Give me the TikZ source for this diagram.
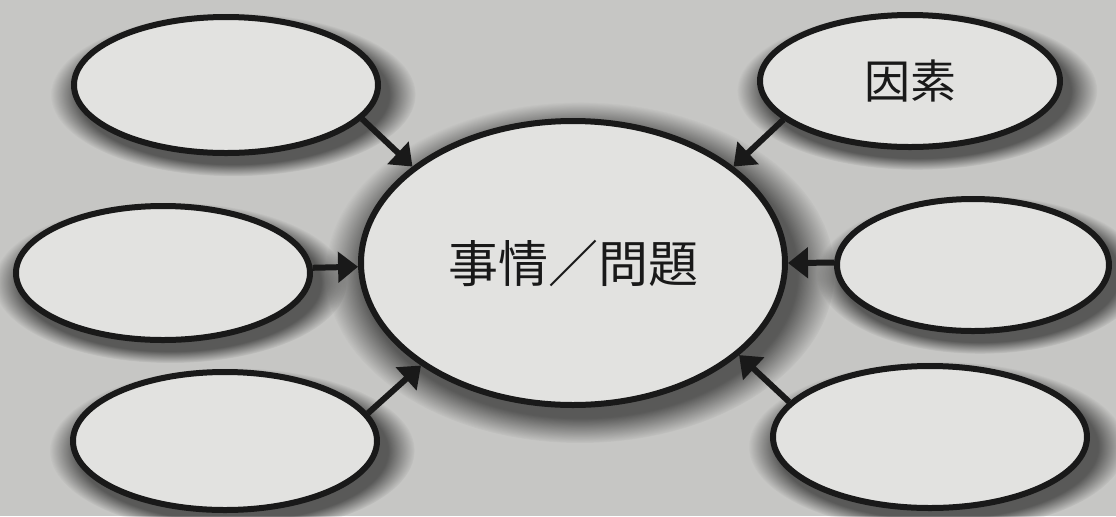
\documentclass[tikz,border=0pt]{standalone}
\usepackage{fontspec}
\newfontfamily\jpfont{Noto Sans CJK JP}
\usetikzlibrary{shapes.geometric,arrows.meta,shadows}
\definecolor{paper}{RGB}{198,198,196}
\definecolor{bubblefill}{RGB}{226,226,224}
\definecolor{ink}{RGB}{25,25,25}
\begin{document}
\begin{tikzpicture}[x=0.5pt,y=-0.5pt,
	bubble/.style={ellipse,draw=ink,line width=3pt,fill=bubblefill,inner sep=0pt,text=ink,
		circular drop shadow={shadow xshift=3pt,shadow yshift=-4pt,shadow scale=1.2,opacity=.55,fill=black}},
	arr/.style={draw=ink,line width=3pt,-{Triangle[length=10pt,width=15pt]}}]
	\path[use as bounding box,fill=paper] (0,0) rectangle (1116,516);
	\node[bubble,minimum width=212pt,minimum height=142pt,font=\jpfont\fontsize{25pt}{30pt}\selectfont] (issue) at (573,263) {事情／問題};
	\node[bubble,minimum width=152pt,minimum height=68pt] (f1) at (226,85) {};
	\node[bubble,minimum width=147pt,minimum height=67pt] (f2) at (163,273) {};
	\node[bubble,minimum width=152pt,minimum height=69pt] (f3) at (225,441) {};
	\node[bubble,minimum width=150pt,minimum height=66pt,font=\jpfont\fontsize{23pt}{28pt}\selectfont] (f4) at (910,81) {因素};
	\node[bubble,minimum width=136pt,minimum height=66pt] (f5) at (973,265) {};
	\node[bubble,minimum width=157pt,minimum height=71pt] (f6) at (930,437) {};
	\draw[arr] (f1.-14) -- (issue.149);
	\draw[arr] (f2.2) -- (issue.181);
	\draw[arr] (f3.11) -- (issue.214);
	\draw[arr] (f4.-163) -- (issue.31);
	\draw[arr] (f5.179) -- (issue.0);
	\draw[arr] (f6.166) -- (issue.-29);
\end{tikzpicture}
\end{document}
